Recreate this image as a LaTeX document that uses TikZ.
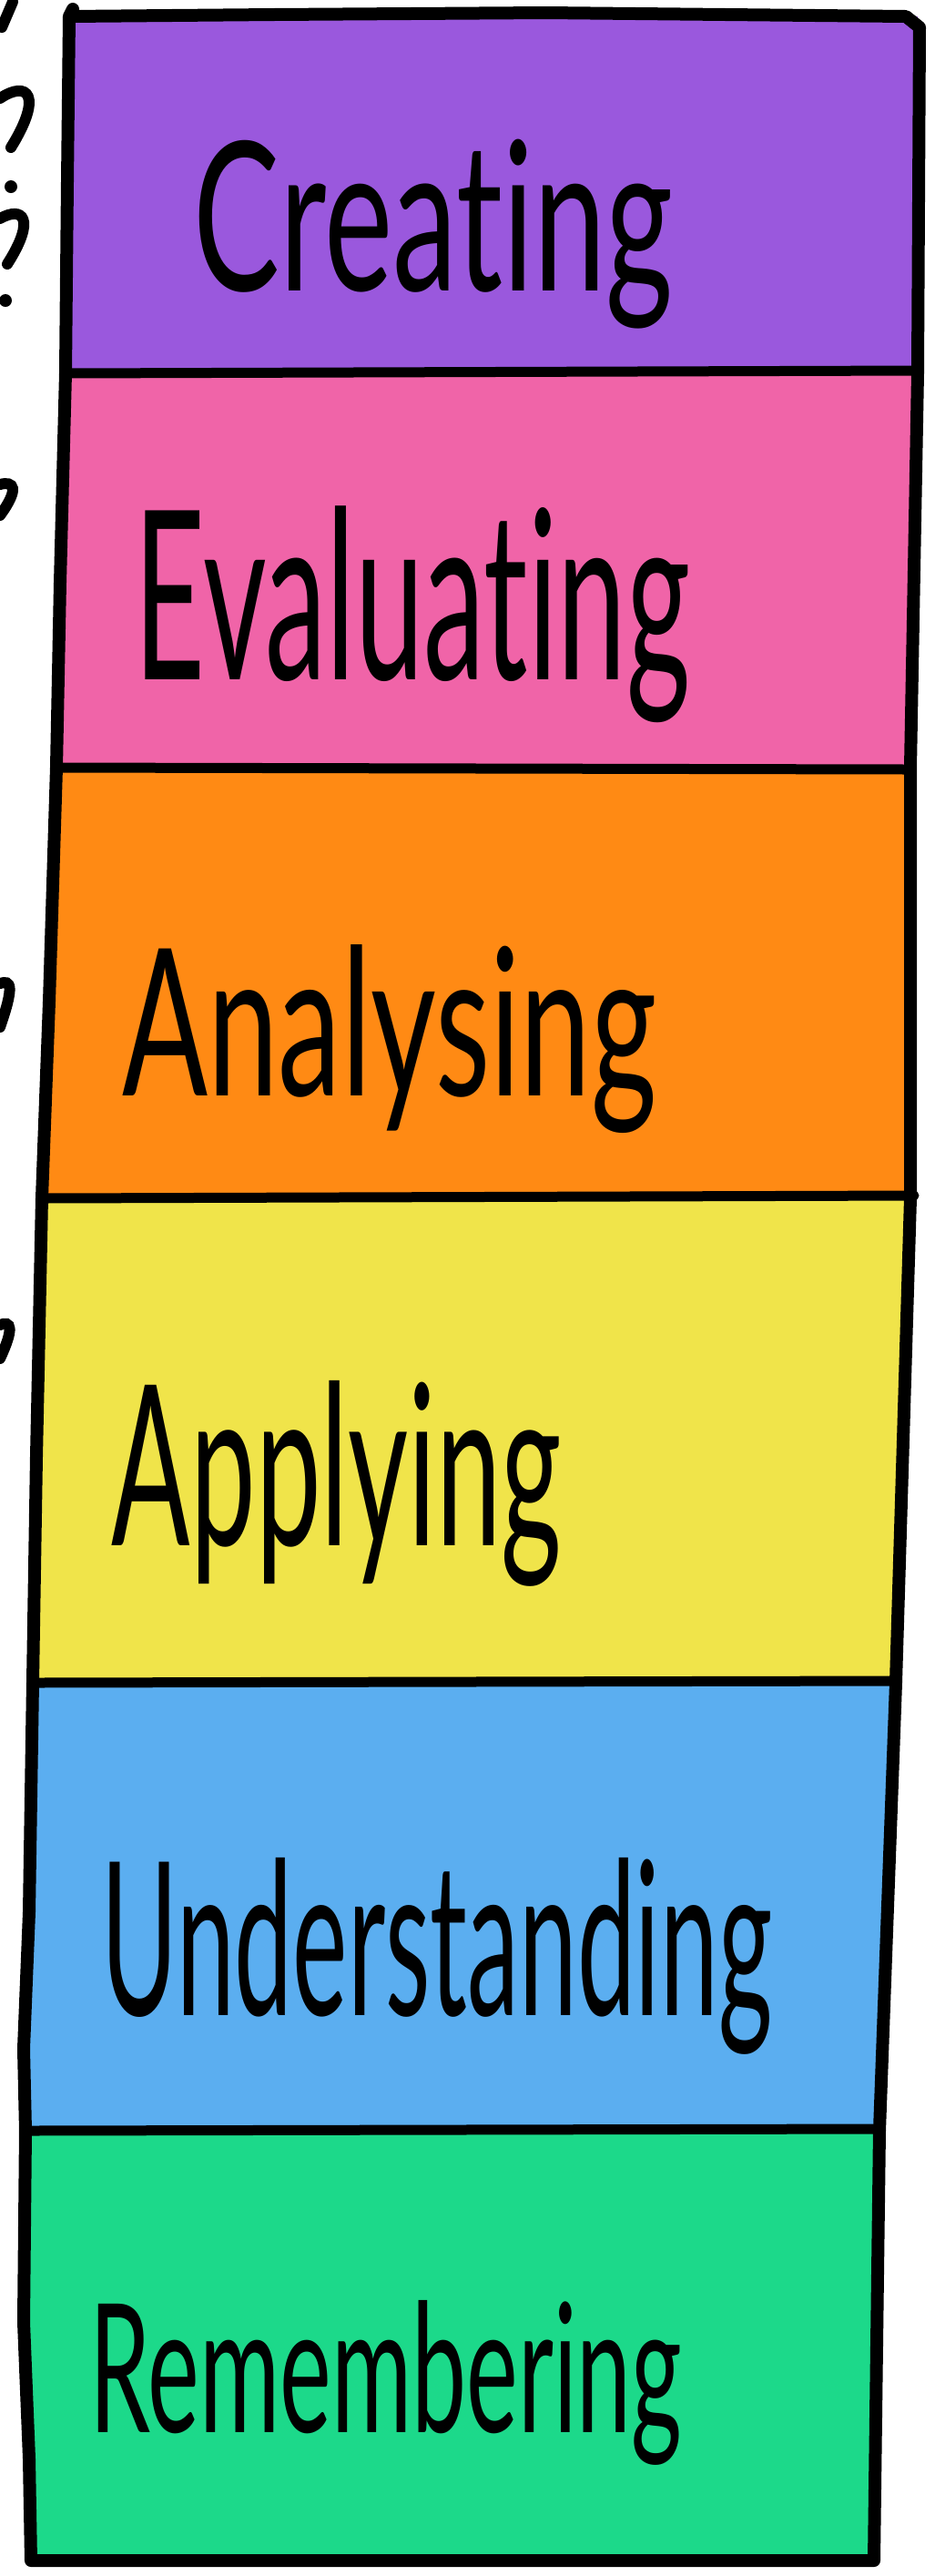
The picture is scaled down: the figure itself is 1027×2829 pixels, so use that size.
\documentclass[tikz,border=0pt]{standalone}
\usepackage{fontspec}
\setmainfont{Lato}[Ligatures=NoCommon]
\usepackage{graphicx}
\definecolor{cPurple}{RGB}{154,88,221}
\definecolor{cPink}{RGB}{240,100,168}
\definecolor{cOrange}{RGB}{255,138,20}
\definecolor{cYellow}{RGB}{240,228,74}
\definecolor{cBlue}{RGB}{91,174,240}
\definecolor{cGreen}{RGB}{28,217,138}
\tikzset{
  divider/.style={line width=5.5pt, draw=black, line cap=round},
  outline/.style={line width=7pt, draw=black, line join=round, line cap=round},
  word/.style={inner sep=0pt, outer sep=0pt, text=black},
  scribble/.style={line width=6pt, line cap=round, draw=black},
}
\newcommand{\fitword}[3]{\resizebox*{#1}{#2}{#3}}
\begin{document}
\begin{tikzpicture}[x=0.5pt,y=-0.5pt]
\useasboundingbox (0,0) rectangle (1027,2829);
\fill[white] (0,0) rectangle (1027,2829);
% bands
\fill[cPurple] (76,18) -- (1008,18) -- (1008,410) -- (72,410) -- cycle;
\fill[cPink] (72,410) -- (1008,410) -- (1000,843) -- (62,843) -- cycle;
\fill[cOrange] (62,843) -- (1000,843) -- (1000,1316) -- (46,1316) -- cycle;
\fill[cYellow] (46,1316) -- (1000,1316) -- (984,1848) -- (36,1848) -- cycle;
\fill[cBlue] (36,1848) -- (984,1848) -- (966,2340) -- (28,2340) -- cycle;
\fill[cGreen] (28,2340) -- (966,2340) -- (960,2812) -- (34,2812) -- cycle;
% dividers
\draw[divider] (72,410) -- (1008,407);
\draw[divider] (62,843) -- (1000,845);
\draw[divider] (46,1316) -- (1004,1313);
\draw[divider] (36,1848) -- (984,1846);
\draw[divider] (28,2340) -- (966,2338);
% outline
\draw[outline] (80,10) -- (76,18) -- (74,200) -- (72,410) -- (66,640) -- (62,843)
  -- (54,1100) -- (46,1316) -- (40,1600) -- (36,1848) -- (32,2100) -- (26,2250)
  -- (28,2340) -- (26,2550) -- (32,2700) -- (34,2812) -- (960,2812)
  -- (966,2340) -- (984,1848) -- (1000,1316) -- (1000,843) -- (1008,410)
  -- (1010,30) -- (995,18) -- (600,14) -- (300,16) -- (76,18);
% texts
\node[word] (creating) at (476,257) {\fitword{263.5pt}{104pt}{Creating}};
\node[word] (evaluating) at (453,675) {\fitword{305pt}{119pt}{Evaluating}};
\node[word] (analysing) at (428,1141) {\fitword{293.5pt}{103.5pt}{Analysing}};
\node[word] (applying) at (370,1629) {\fitword{247pt}{113pt}{Applying}};
\node[word] (understanding) at (480,2148) {\fitword{368pt}{108pt}{Understanding}};
\node[word] (remembering) at (424,2617) {\fitword{325pt}{90.5pt}{Remembering}};
% partial marks at the left edge
\draw[scribble] (2,30) -- (14,2);
\draw[scribble] (0,108) .. controls (30,88) and (48,104) .. (12,162);
\fill (12,205) circle (7);
\draw[scribble] (0,240) .. controls (25,226) and (40,240) .. (8,290);
\fill (6,330) circle (7);
\draw[scribble] (0,532) .. controls (15,528) and (22,536) .. (0,566);
\draw[scribble] (0,1080) .. controls (12,1076) and (16,1082) .. (0,1128);
\draw[scribble] (0,1455) .. controls (12,1450) and (16,1458) .. (0,1492);
\end{tikzpicture}
\end{document}
